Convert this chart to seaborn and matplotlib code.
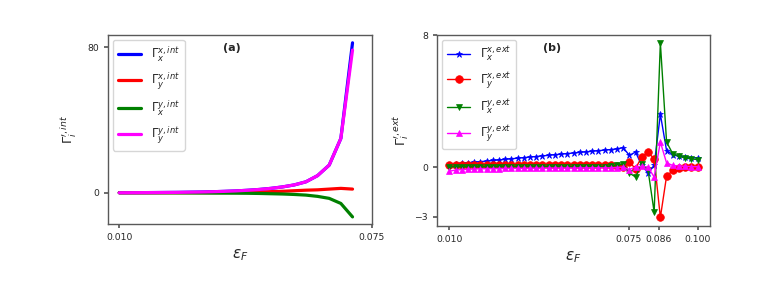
import numpy as np
import pandas as pd
import matplotlib
matplotlib.use("Agg")
import matplotlib.pyplot as plt
import seaborn as sns

# ---------------- data: panel (a) ----------------
eps_int = [0.010, 0.013, 0.016, 0.019, 0.022, 0.025, 0.028, 0.031, 0.034, 0.037,
           0.040, 0.043, 0.046, 0.049, 0.052, 0.055, 0.058, 0.061, 0.064, 0.067, 0.070]
gxx_int = [0.0, 0.03, 0.06, 0.1, 0.15, 0.2, 0.3, 0.4, 0.55, 0.75,
           1.0, 1.35, 1.8, 2.4, 3.2, 4.3, 6.0, 9.4, 15.2, 29.9, 82.5]
gyx_int = [0.0, 0.0, 0.0, 0.01, 0.02, 0.03, 0.05, 0.07, 0.1, 0.13,
           0.17, 0.25, 0.35, 0.6, 0.8, 1.1, 1.4, 1.6, 2.0, 2.4, 2.0]
gxy_int = [0.0, -0.01, -0.02, -0.04, -0.06, -0.09, -0.12, -0.16, -0.2, -0.22,
           -0.25, -0.3, -0.4, -0.55, -0.7, -0.95, -1.3, -2.0, -3.1, -5.9, -13.3]
gyy_int = [0.0, 0.03, 0.06, 0.1, 0.15, 0.2, 0.3, 0.4, 0.55, 0.75,
           1.0, 1.35, 1.8, 2.4, 3.2, 4.3, 6.0, 9.4, 15.2, 29.9, 78.5]

# ---------------- data: panel (b) ----------------
eps_ext = [0.01000, 0.01225, 0.01450, 0.01675, 0.01900, 0.02125, 0.02350, 0.02575,
           0.02800, 0.03025, 0.03250, 0.03475, 0.03700, 0.03925, 0.04150, 0.04375,
           0.04600, 0.04825, 0.05050, 0.05275, 0.05500, 0.05725, 0.05950, 0.06175,
           0.06400, 0.06625, 0.06850, 0.07075, 0.07300, 0.07525, 0.07750, 0.07975,
           0.08200, 0.08425, 0.08650, 0.08875, 0.09100, 0.09325, 0.09550, 0.09775,
           0.10000]
gxx_ext = [0.15, 0.19, 0.22, 0.26, 0.29, 0.33, 0.36, 0.40, 0.43, 0.47,
           0.50, 0.54, 0.57, 0.61, 0.64, 0.68, 0.71, 0.75, 0.78, 0.82,
           0.85, 0.89, 0.92, 0.96, 0.99, 1.03, 1.06, 1.10, 1.18, 0.71,
           0.91, 0.10, -0.36, 0.10, 3.20, 1.00, 0.75, 0.65, 0.60, 0.57, 0.55]
gyx_ext = [0.10, 0.10, 0.10, 0.10, 0.10, 0.10, 0.10, 0.10, 0.10, 0.10,
           0.10, 0.10, 0.10, 0.10, 0.10, 0.10, 0.10, 0.10, 0.10, 0.10,
           0.10, 0.10, 0.10, 0.10, 0.10, 0.10, 0.10, 0.08, 0.00, 0.30,
           -0.10, 0.63, 0.90, 0.50, -3.05, -0.55, -0.20, -0.05, 0.00, 0.00, 0.00]
gxy_ext = [0.02, 0.02, 0.02, 0.02, 0.02, 0.02, 0.02, 0.02, 0.02, 0.02,
           0.02, 0.02, 0.02, 0.02, 0.02, 0.02, 0.02, 0.02, 0.02, 0.02,
           0.02, 0.02, 0.02, 0.02, 0.02, 0.02, 0.05, 0.10, 0.20, -0.36,
           -0.60, 0.20, -0.15, -2.73, 7.53, 1.52, 0.80, 0.65, 0.55, 0.50, 0.45]
gyy_ext = [-0.25, -0.18, -0.15, -0.13, -0.12, -0.10, -0.10, -0.09, -0.09, -0.08,
           -0.08, -0.08, -0.07, -0.07, -0.07, -0.07, -0.06, -0.06, -0.06, -0.06,
           -0.06, -0.05, -0.05, -0.05, -0.05, -0.05, -0.05, -0.03, 0.00, -0.15,
           0.00, 0.05, 0.00, -0.60, 1.52, 0.25, 0.10, 0.07, 0.05, 0.03, 0.02]

labels_int = [r'$\Gamma_x^{x,int}$', r'$\Gamma_y^{x,int}$', r'$\Gamma_x^{y,int}$', r'$\Gamma_y^{y,int}$']
labels_ext = [r'$\Gamma_x^{x,ext}$', r'$\Gamma_y^{x,ext}$', r'$\Gamma_x^{y,ext}$', r'$\Gamma_y^{y,ext}$']
colors = ['blue', 'red', 'green', 'magenta']
markers = ['*', 'o', 'v', '^']

xticks_a = [0.010, 0.075]
xticklabels_a = ['0.010', '0.075']
yticks_a = [0, 80]
xticks_b = [0.010, 0.075, 0.086, 0.100]
xticklabels_b = ['0.010', '0.075', '0.086', '0.100']
yticks_b = [-3, 0, 8]

sns.set_theme(style="ticks", rc={"axes.edgecolor": "0.35", "axes.linewidth": 1.0,
                                 "xtick.color": "0.35", "ytick.color": "0.35",
                                 "xtick.labelcolor": "0.15", "ytick.labelcolor": "0.15"})
plt.rcParams['font.family'] = ['DejaVu Sans']

fig = plt.figure(figsize=(7.78, 2.84), dpi=100)
ax1 = fig.add_axes([0.1388, 0.2113, 0.3393, 0.6655])
ax2 = fig.add_axes([0.5617, 0.2042, 0.3509, 0.6725])

# panel (a)
for ys, lab, c in zip([gxx_int, gyx_int, gxy_int, gyy_int], labels_int, colors):
    sns.lineplot(x=eps_int, y=ys, ax=ax1, color=c, lw=2.3, label=lab)
ax1.set_xlim(0.0071, 0.075)
ax1.set_ylim(-17.2, 86.8)
ax1.set_xticks(xticks_a)
ax1.set_xticklabels(xticklabels_a)
ax1.set_yticks(yticks_a)
ax1.tick_params(labelsize=6.7, length=3)
ax1.set_xlabel(r'$\varepsilon_F$', fontsize=11)
ax1.set_ylabel(r'$\Gamma_i^{\prime, int}$', fontsize=9.5, labelpad=6)
ax1.text(0.47, 0.93, '(a)', transform=ax1.transAxes, fontsize=8, fontweight='bold',
         ha='center', va='center')
ax1.legend(loc='upper left', fontsize=8.6, frameon=True, borderaxespad=0.4,
           handlelength=2.0, labelspacing=0.55)

# panel (b)
for ys, lab, c, m in zip([gxx_ext, gyx_ext, gxy_ext, gyy_ext], labels_ext, colors, markers):
    ms = {'*': 5, 'o': 5.5, 'v': 5, '^': 5}[m]
    sns.lineplot(x=eps_ext, y=ys, ax=ax2, color=c, lw=1.0, marker=m, markersize=ms,
                 markeredgecolor=c, markeredgewidth=0.5, label=lab)
ax2.set_xlim(0.0055, 0.1045)
ax2.set_ylim(-3.57, 8)
ax2.set_xticks(xticks_b)
ax2.set_xticklabels(xticklabels_b)
ax2.set_yticks(yticks_b)
ax2.tick_params(labelsize=6.7, length=3)
ax2.set_xlabel(r'$\varepsilon_F$', fontsize=11)
ax2.set_ylabel(r'$\Gamma_i^{\prime, ext}$', fontsize=9.5, labelpad=2)
ax2.text(0.42, 0.93, '(b)', transform=ax2.transAxes, fontsize=8, fontweight='bold',
         ha='center', va='center')
ax2.legend(loc='upper left', fontsize=8.6, frameon=True, borderaxespad=0.4,
           handlelength=2.0, labelspacing=0.55)

fig.savefig('out.png', dpi=100)
